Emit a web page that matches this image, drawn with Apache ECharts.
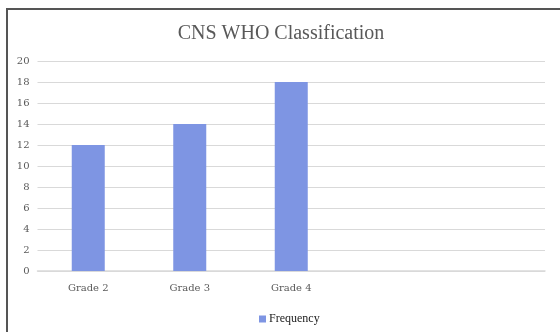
<!DOCTYPE html>
<html>
<head>
<meta charset="utf-8">
<style>
  html, body { margin: 0; padding: 0; background: #ffffff; }
  #chart { width: 560px; height: 332px; }
</style>
<script src="https://cdn.jsdelivr.net/npm/echarts@6/dist/echarts.min.js"></script>
</head>
<body>
<div id="chart"></div>
<script>
// Categories (two empty slots keep the chart's original 5-band layout)
const categories = ['Grade 2', 'Grade 3', 'Grade 4', '', ''];
const frequency = [12, 14, 18, null, null];
const seriesName = 'Frequency';
const chartTitle = 'CNS WHO Classification';

const serif = '"Liberation Serif", "DejaVu Serif", serif';
const wideSerif = '"DejaVu Serif", "Liberation Serif", serif';
const grey = '#595959';
const gridGrey = '#d9d9d9';

const chart = echarts.init(document.getElementById('chart'), null, { renderer: 'canvas' });
chart.setOption({
  animation: false,
  backgroundColor: '#ffffff',
  title: {
    text: chartTitle,
    left: 276,
    textAlign: 'center',
    top: 19,
    textStyle: { fontFamily: serif, fontSize: 20, fontWeight: 'normal', color: grey }
  },
  graphic: [{
    type: 'rect',
    shape: { x: 7, y: 9, width: 620, height: 400 },
    style: { fill: 'none', stroke: '#555555', lineWidth: 2 },
    silent: true
  }],
  legend: {
    data: [seriesName],
    left: 254,
    top: 308,
    itemWidth: 7,
    itemHeight: 7,
    itemGap: 4,
    icon: 'rect',
    textStyle: { fontFamily: serif, fontSize: 12, color: '#222222', padding: [0, 0, 0, -2] }
  },
  grid: { left: 37.5, right: 15, top: 61, bottom: 61, containLabel: false },
  xAxis: {
    type: 'category',
    data: categories,
    axisLine: { lineStyle: { color: gridGrey, width: 1.5 } },
    axisTick: { show: false },
    axisLabel: { fontFamily: wideSerif, fontSize: 10, color: grey, margin: 12 }
  },
  yAxis: {
    type: 'value',
    min: 0,
    max: 20,
    interval: 2,
    axisLine: { show: false },
    axisTick: { show: false },
    axisLabel: { fontFamily: wideSerif, fontSize: 10, color: grey, margin: 8 },
    splitLine: { lineStyle: { color: gridGrey, width: 1.2 } }
  },
  series: [{
    name: seriesName,
    type: 'bar',
    data: frequency,
    barWidth: 33,
    itemStyle: { color: '#7e95e3' }
  }]
});
</script>
</body>
</html>
